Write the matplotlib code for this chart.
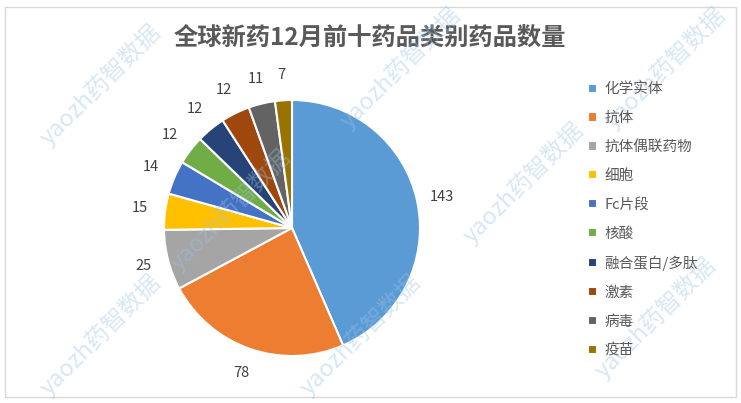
import matplotlib.pyplot as plt
from matplotlib.patches import Rectangle

plt.rcParams['font.family'] = ['Noto Sans CJK SC', 'DejaVu Sans']

categories = ['化学实体', '抗体', '抗体偶联药物', '细胞', 'Fc片段', '核酸',
              '融合蛋白/多肽', '激素', '病毒', '疫苗']
counts = [143, 78, 25, 15, 14, 12, 12, 12, 11, 7]
colors = ['#5B9BD5', '#ED7D31', '#A5A5A5', '#FFC000', '#4472C4', '#70AD47',
          '#264478', '#9E480E', '#636363', '#997300']
title = '全球新药12月前十药品类别药品数量'
total = sum(counts)

W, H = 741, 403
fig = plt.figure(figsize=(W / 100, H / 100), dpi=100)

# outer frame
fig.patches.append(Rectangle((5 / W, 6 / H), 731 / W, 390 / H, transform=fig.transFigure,
                             fill=False, edgecolor='#D9D9D9', linewidth=1))

# pie axes: centre (292, 228) px, radius 128 px
cx, cy, r = 292, 228, 128
ax = fig.add_axes([(cx - r) / W, (H - cy - r) / H, 2 * r / W, 2 * r / H])
wedges, _, autotexts = ax.pie(counts, colors=colors, startangle=90, counterclock=False,
                              autopct=lambda p: '%d' % round(p * total / 100),
                              pctdistance=1.2,
                              wedgeprops=dict(edgecolor='white', linewidth=1.5),
                              textprops=dict(fontsize=10.5, color='#404040'))
ax.set_xlim(-1, 1)
ax.set_ylim(-1, 1)

fig.text(370 / W, 1 - 38 / H, title, ha='center', va='center', fontsize=17.5,
         fontweight='bold', color='#595959')

leg = fig.legend(wedges, categories, loc='upper left', bbox_to_anchor=(581 / W, 1 - 75 / H),
                 frameon=False, fontsize=10.5, handlelength=0.6, handleheight=0.6,
                 handletextpad=0.5, labelspacing=1.02, borderpad=0)
for t in leg.get_texts():
    t.set_color('#595959')

# watermarks
marks = [(100, 85), (400, 68), (665, 68), (523, 183), (230, 210), (100, 335), (360, 335), (655, 318)]
for x, y in marks:
    fig.text(x / W, 1 - y / H, 'yaozh药智数据', ha='center', va='center', rotation=45,
             fontsize=17, color='#9DC3E6', alpha=0.4)

fig.savefig('out.png', dpi=100)
